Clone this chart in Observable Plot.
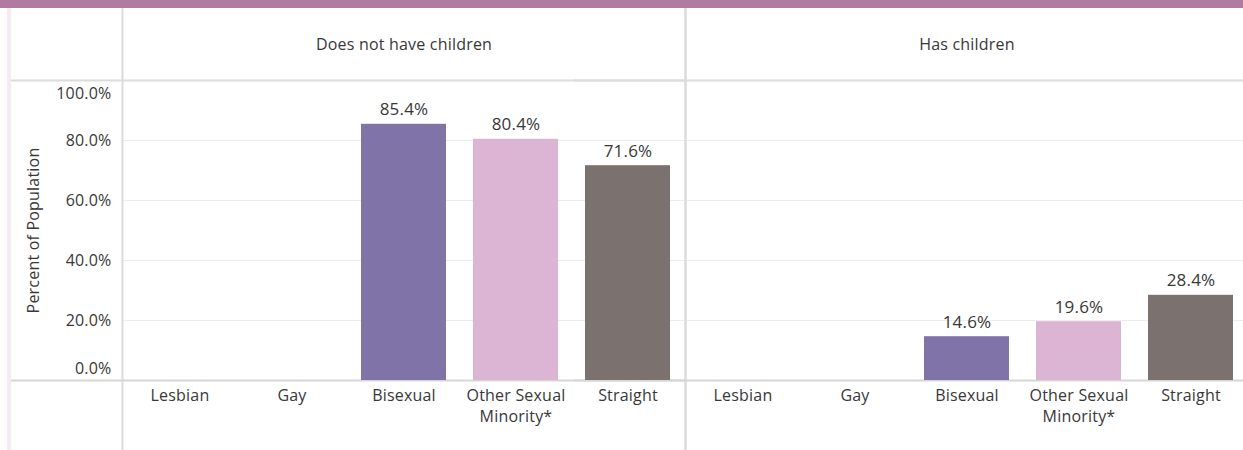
<!DOCTYPE html>
<html>
<head>
<meta charset="utf-8">
<script src="https://cdn.jsdelivr.net/npm/d3@7"></script>
<script src="https://cdn.jsdelivr.net/npm/@observablehq/plot@0.6"></script>
<style>
  html, body { margin: 0; padding: 0; background: #fff; overflow: hidden; }
  #wrap { position: relative; width: 1243px; height: 450px; }
  #band { height: 8px; background: #b07aa1; }
  #strip { position: absolute; left: 7px; top: 8px; width: 4px; height: 442px; background: #f5eaf3; }
  #chart svg { font-family: "Open Sans", sans-serif; }
  #chart svg text { letter-spacing: 0.2px; }
</style>
</head>
<body>
<div id="wrap">
  <div id="band"></div>
  <div id="strip"></div>
  <div id="chart"></div>
</div>
<script>
const facets = ["Does not have children", "Has children"];
const orientations = ["Lesbian", "Gay", "Bisexual", "Other Sexual Minority*", "Straight"];
const noChildren = [null, null, 85.4, 80.4, 71.6];
const hasChildren = [null, null, 14.6, 19.6, 28.4];
const colors = ["#a3c1d9", "#9bcfc4", "#8073a8", "#dcb5d4", "#7b716e"];
const gridTicks = [20, 40, 60, 80];

const rows = [];
orientations.forEach((o, i) => {
  if (noChildren[i] != null) rows.push({facet: facets[0], cat: o, value: noChildren[i]});
  if (hasChildren[i] != null) rows.push({facet: facets[1], cat: o, value: hasChildren[i]});
});

const pct = d => d3.format(".1f")(d) + "%";
const txt = "#383838";
const fs = 16;

const chart = Plot.plot({
  width: 1243,
  height: 442,
  marginTop: 72,
  marginBottom: 70,
  marginLeft: 122,
  marginRight: -5,
  style: {fontFamily: "Open Sans, sans-serif", fontSize: fs + "px", color: txt},
  fx: {domain: facets, padding: 0, axis: null},
  x: {domain: orientations, paddingInner: 0.245, paddingOuter: 0.1225, axis: null},
  y: {domain: [0, 100], axis: null},
  color: {domain: orientations, range: colors},
  marks: [
    Plot.gridY(gridTicks, {stroke: "#ededed", strokeOpacity: 1, strokeWidth: 1}),
    Plot.frame({stroke: "#dcdcdc", strokeWidth: 2, insetTop: -90, insetBottom: -90}),
    Plot.ruleY([100], {stroke: "#dcdcdc", strokeWidth: 2, insetLeft: -111}),
    Plot.ruleY([0], {stroke: "#d6d6d6", strokeWidth: 2, insetLeft: -111}),
    Plot.barY(rows, {fx: "facet", x: "cat", y: "value", fill: "cat"}),
    Plot.text(rows, {fx: "facet", x: "cat", y: "value", text: d => pct(d.value), dy: -9, lineAnchor: "bottom", fill: txt, fontSize: 17}),
    Plot.text(facets, {fx: d => d, text: d => d, frameAnchor: "top", dy: -42, fill: txt, fontSize: fs}),
    Plot.axisX({
      tickSize: 0, tickPadding: 6, lineHeight: 1.28, fontSize: fs, fill: txt,
      tickFormat: d => d === "Other Sexual Minority*" ? "Other Sexual\nMinority*" : d,
      label: null
    }),
    Plot.axisY(gridTicks, {
      tickSize: 0, tickPadding: 11, fontSize: fs, fill: txt, tickFormat: pct,
      label: "Percent of Population", labelAnchor: "center", labelOffset: 95, labelArrow: "none"
    }),
    Plot.axisY([0], {tickSize: 0, tickPadding: 11, fontSize: fs, fill: txt, tickFormat: pct, dy: -12, label: null}),
    Plot.axisY([100], {tickSize: 0, tickPadding: 11, fontSize: fs, fill: txt, tickFormat: pct, dy: 13, label: null})
  ]
});
document.getElementById("chart").appendChild(chart);
</script>
</body>
</html>
